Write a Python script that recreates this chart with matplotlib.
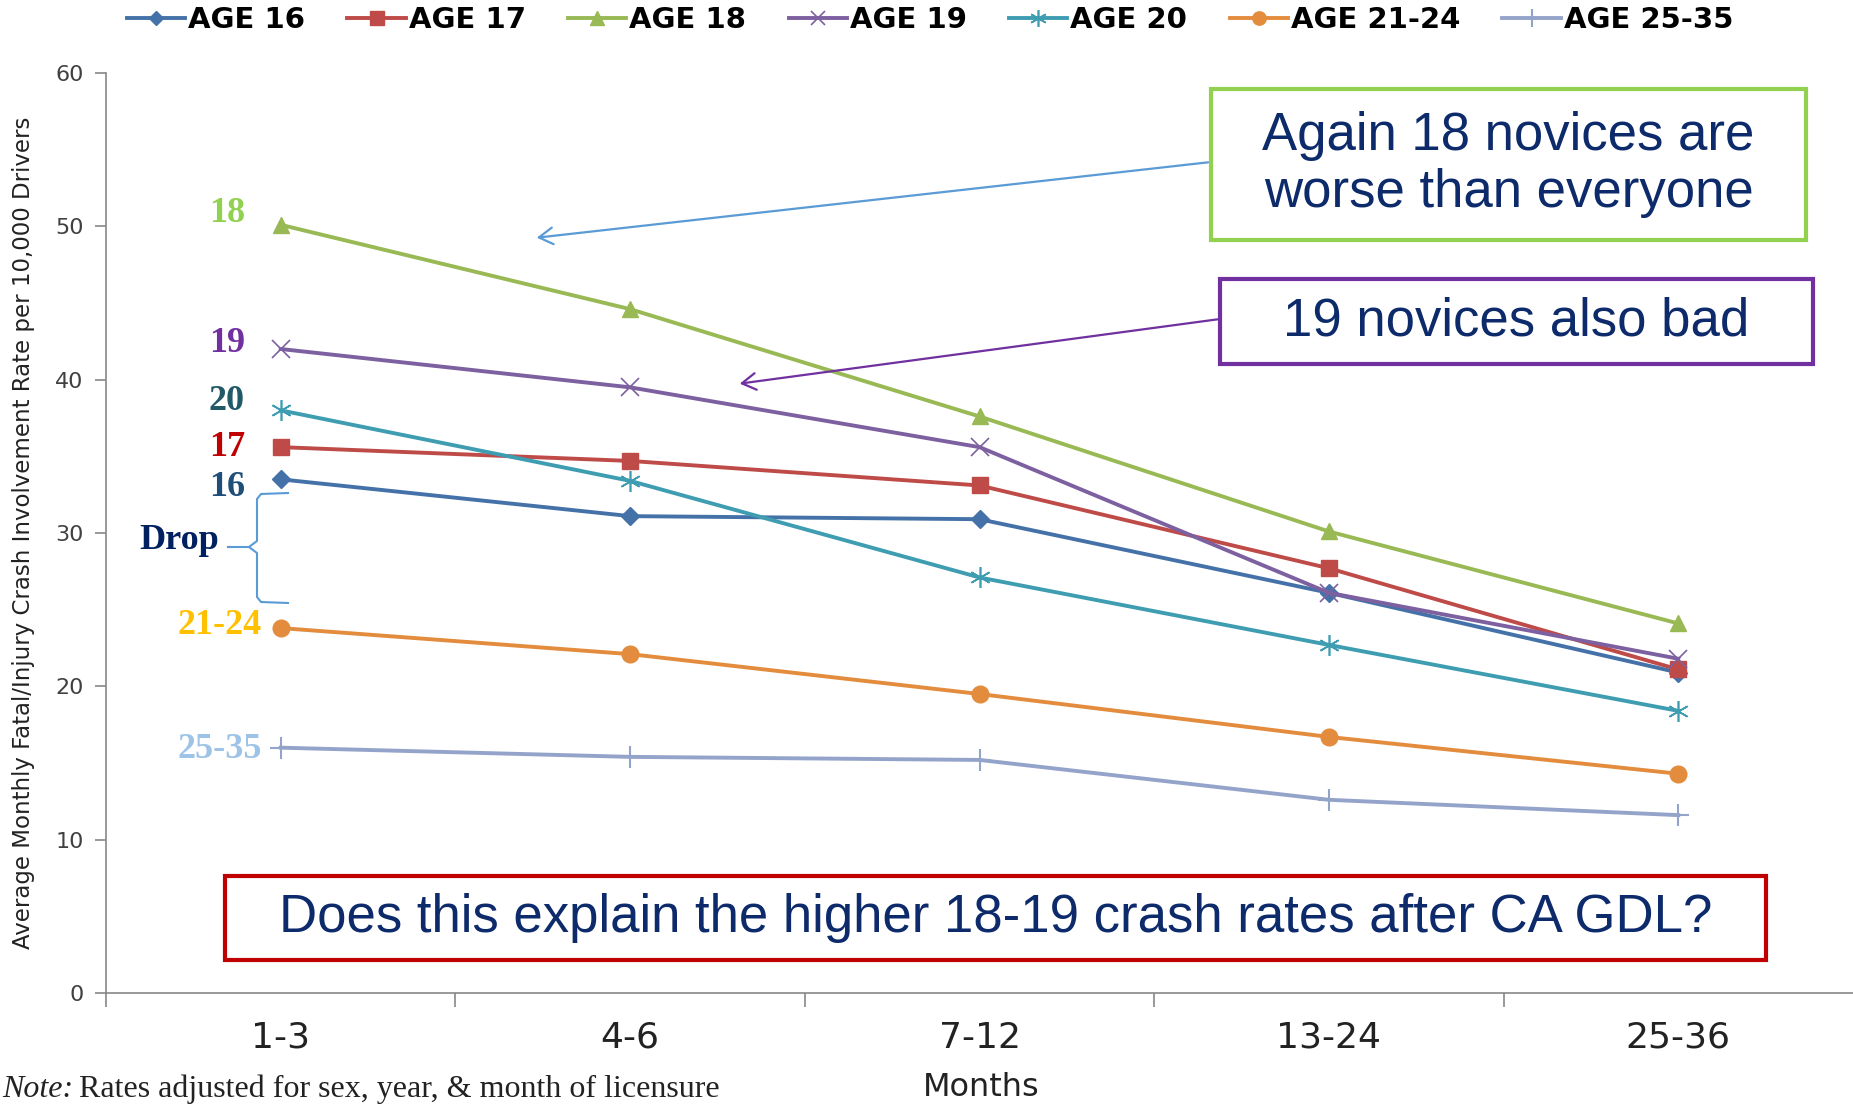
import matplotlib
matplotlib.use("Agg")
import matplotlib.pyplot as plt
from matplotlib.patches import Rectangle, FancyArrowPatch

categories = ["1-3", "4-6", "7-12", "13-24", "25-36"]
series_names = ["AGE 16", "AGE 17", "AGE 18", "AGE 19", "AGE 20", "AGE 21-24", "AGE 25-35"]
age16 = [33.5, 31.1, 30.9, 26.1, 20.9]
age17 = [35.6, 34.7, 33.1, 27.7, 21.1]
age18 = [50.1, 44.6, 37.6, 30.1, 24.1]
age19 = [42.0, 39.5, 35.6, 26.1, 21.8]
age20 = [38.0, 33.4, 27.1, 22.7, 18.4]
age21_24 = [23.8, 22.1, 19.5, 16.7, 14.3]
age25_35 = [16.0, 15.4, 15.2, 12.6, 11.6]
yticks = [0, 10, 20, 30, 40, 50, 60]

W, H = 1853, 1106
fig = plt.figure(figsize=(W / 100, H / 100), dpi=100)
ax = fig.add_axes([106 / W, 1 - 993 / H, 1 - 106 / W, (993 - 73) / H])

def fx(px):
    return px / W

def fy(py):
    return 1 - py / H

styles = [
    dict(color="#4472A8", marker="D", ms=9),
    dict(color="#BE4B48", marker="s", ms=12),
    dict(color="#98B954", marker="^", ms=12),
    dict(color="#7D60A0", marker="x", ms=13, mew=1.2),
    dict(color="#3F9DB2", marker=(6, 2, 0), ms=15, mew=1.2),
    dict(color="#E38C3D", marker="o", ms=12),
    dict(color="#94A3CA", marker="+", ms=16, mew=1.5),
]
data = [age16, age17, age18, age19, age20, age21_24, age25_35]
xs = list(range(len(categories)))
handles = []
for name, vals, st in zip(series_names, data, styles):
    h, = ax.plot(xs, vals, lw=2.8, label=name, color=st["color"], marker=st["marker"],
                 markersize=st["ms"], markeredgewidth=st.get("mew", 1.0), zorder=3)
    handles.append(h)

ax.set_xlim(-0.5, 4.5)
ax.set_ylim(0, 60)
ax.set_yticks(yticks)
ax.set_yticklabels([str(v) for v in yticks], fontsize=16, color="#404040")
ax.set_xticks(xs)
ax.set_xticklabels(categories, fontsize=26, color="#222222")
ax.tick_params(axis="x", which="major", length=0, pad=20)
ax.set_xticks([-0.5, 0.5, 1.5, 2.5, 3.5], minor=True)
ax.tick_params(axis="x", which="minor", length=10, color="#888888", width=1.2)
ax.tick_params(axis="y", length=8, color="#888888", width=1.2, pad=8)
for s in ["top", "right"]:
    ax.spines[s].set_visible(False)
for s in ["left", "bottom"]:
    ax.spines[s].set_color("#888888")
    ax.spines[s].set_linewidth(1.2)

fig.text(fx(981), fy(1088), "Months", fontsize=23, color="#222222", ha="center", va="center")
fig.text(fx(24), fy(533), "Average Monthly Fatal/Injury Crash Involvement Rate per 10,000 Drivers",
         fontsize=16.5, rotation=90, ha="center", va="center", color="#222222",
         family="Liberation Sans Narrow")

leg = fig.legend(handles=handles, loc="center", ncol=7, bbox_to_anchor=(fx(930), fy(20)),
                 frameon=False, prop=dict(size=21, weight="bold", family="DejaVu Sans"),
                 handlelength=2.0, columnspacing=1.45, handletextpad=0.1, markerscale=0.8)

# left labels
labels = [("18", 213, "#92D050"), ("19", 343, "#7030A0"), ("20", 401, "#215967"),
          ("17", 448, "#C00000"), ("16", 487, "#1F4E79"), ("21-24", 625, "#FFC000"),
          ("25-35", 749, "#9DC3E6")]
for t, py, c in labels:
    fig.text(fx(262 if "-" in t else 245), fy(py), t, fontsize=26, fontweight="bold",
             family="Liberation Serif", color=c, ha="right", va="center")
fig.text(fx(219), fy(540), "Drop", fontsize=26, fontweight="bold", family="Liberation Serif",
         color="#002060", ha="right", va="center")

# brace
bx0, bx1, by0, by1, bym = 257, 288, 493, 603, 547
fig.add_artist(plt.Line2D([fx(bx1), fx(bx0 + 4), fx(bx0), fx(bx0), fx(bx0 - 8), fx(bx0),
                           fx(bx0), fx(bx0 + 4), fx(bx1)],
                          [fy(by0), fy(by0 + 1), fy(by0 + 6), fy(bym - 6), fy(bym), fy(bym + 6),
                           fy(by1 - 6), fy(by1 - 1), fy(by1)], color="#5B9BD5", lw=1.5))
fig.add_artist(plt.Line2D([fx(228), fx(bx0 - 8)], [fy(bym), fy(bym)], color="#5B9BD5", lw=1.5))

# boxes
def box(x0, y0, x1, y1, ec, text, fs):
    fig.add_artist(Rectangle((fx(x0), fy(y1)), fx(x1 - x0), (y1 - y0) / H, transform=fig.transFigure,
                             fill=True, facecolor="white", edgecolor=ec, lw=3, zorder=5))
    fig.text(fx((x0 + x1) / 2), fy((y0 + y1) / 2), text, ha="center", va="center",
             fontsize=fs, color="#0D2A6B", linespacing=1.2, zorder=6, family="Liberation Sans")

box(1211, 89, 1806, 240, "#92D050", "Again 18 novices are\nworse than everyone", 38)
box(1220, 279, 1813, 364, "#7030A0", "19 novices also bad", 38)
box(225, 876, 1766, 960, "#C00000", "Does this explain the higher 18-19 crash rates after CA GDL?", 38)

# arrows
fig.add_artist(FancyArrowPatch((fx(1211), fy(162)), (fx(534), fy(238)),
               transform=fig.transFigure, arrowstyle="->,head_length=10,head_width=6",
               color="#5B9BD5", lw=1.6, zorder=4))
fig.add_artist(FancyArrowPatch((fx(1220), fy(319)), (fx(737), fy(384)),
               transform=fig.transFigure, arrowstyle="->,head_length=10,head_width=6",
               color="#7030A0", lw=1.6, zorder=4))

# note
t1 = fig.text(fx(2), fy(1104), "Note:", fontsize=23, family="Liberation Serif", style="italic",
              ha="left", va="bottom", color="#222222")
fig.canvas.draw()
bb = t1.get_window_extent()
fig.text(bb.x1 / W + fx(6), fy(1104), "Rates adjusted for sex, year, & month of licensure",
         fontsize=23, family="Liberation Serif", ha="left", va="bottom", color="#222222")

fig.savefig("out.png", dpi=100)
